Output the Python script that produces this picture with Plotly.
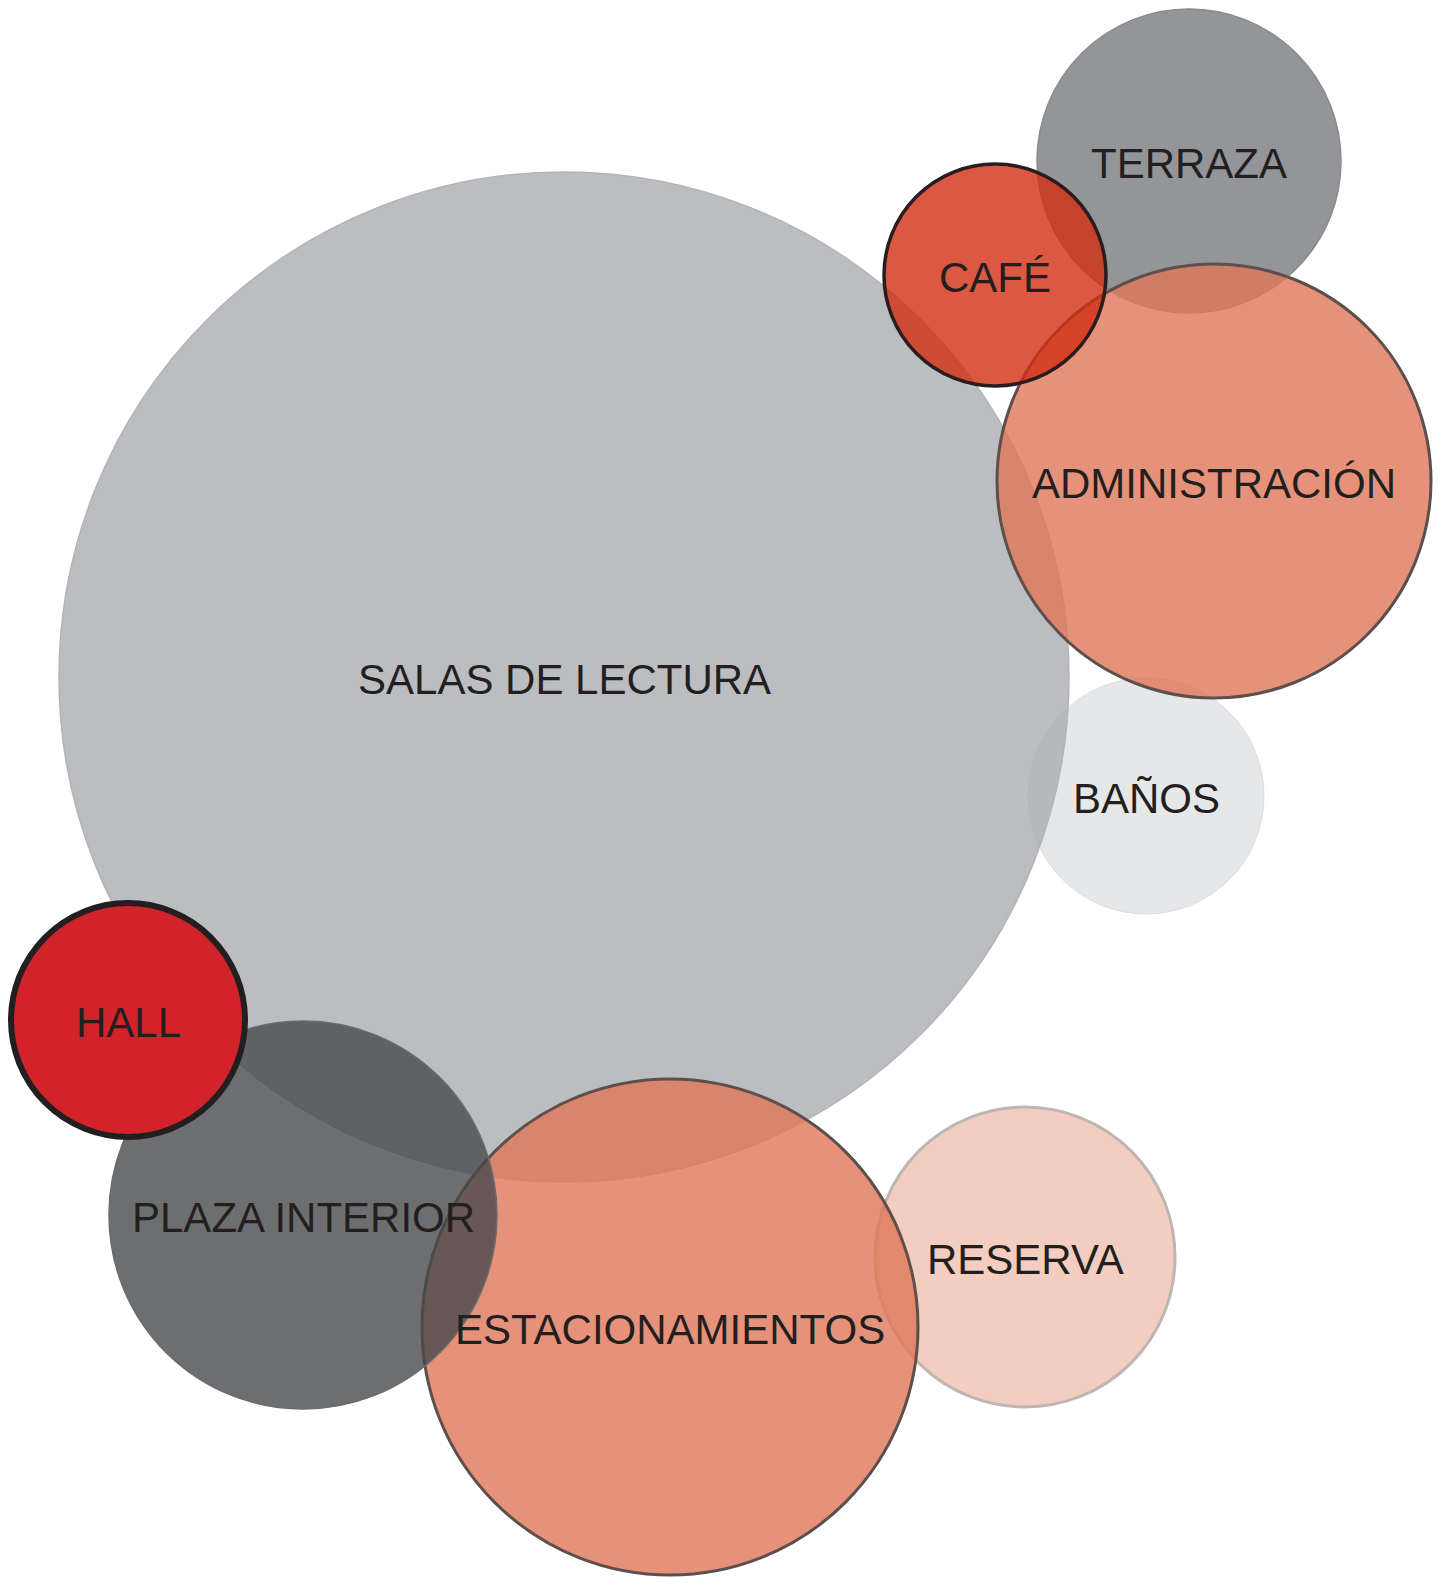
import plotly.graph_objects as go

# spaces of the building, in drawing order (bottom to top)
names = ["BAÑOS", "SALAS DE LECTURA", "TERRAZA", "RESERVA", "ADMINISTRACIÓN",
         "ESTACIONAMIENTOS", "PLAZA INTERIOR", "CAFÉ", "HALL"]
cx = [1146, 564, 1189, 1025, 1214, 670, 303, 995, 128]
cy = [796, 677, 161, 1257, 481, 1327, 1215, 275, 1020]
radius = [118, 505, 152, 150, 217, 248, 194, 111, 117]

# styling per circle
fills = ["rgba(224,225,226,0.8)", "rgba(171,172,176,0.8)", "rgba(120,122,126,0.8)",
         "rgba(240,192,175,0.8)", "rgba(224,119,89,0.8)", "rgba(224,119,89,0.8)",
         "rgba(72,74,76,0.8)", "rgba(210,46,19,0.8)", "rgb(210,35,42)"]
borders = ["#dcdcde", "#b3b4b7", "#8a8b8e", "#bdb6b3", "#5d4f4c", "#5d4f4c",
           "#6a6b6d", "#2b1d1d", "#231f20"]
border_w = [1, 1.5, 1.5, 3, 3, 3, 1.5, 3.5, 6]

fig = go.Figure()

for i in range(len(names)):
    fig.add_shape(
        type="circle", xref="x", yref="y",
        x0=cx[i] - radius[i], x1=cx[i] + radius[i],
        y0=cy[i] - radius[i], y1=cy[i] + radius[i],
        fillcolor=fills[i],
        line=dict(color=borders[i], width=border_w[i]),
        layer="below",
    )

for i in range(len(names)):
    fig.add_annotation(
        x=cx[i], y=cy[i], text=names[i], showarrow=False, yshift=-2,
        font=dict(family="Liberation Sans, Arial, sans-serif", size=42, color="#231f20"),
    )

# the page body has an 8px margin, so the axes start at 8 to keep page pixel coords
fig.update_xaxes(range=[8, 8 + 1444], visible=False, fixedrange=True)
fig.update_yaxes(range=[8 + 1579, 8], visible=False, fixedrange=True)
fig.update_layout(
    width=1444, height=1579,
    margin=dict(l=0, r=0, t=0, b=0),
    paper_bgcolor="white", plot_bgcolor="white",
)

fig.write_html("out.html")
